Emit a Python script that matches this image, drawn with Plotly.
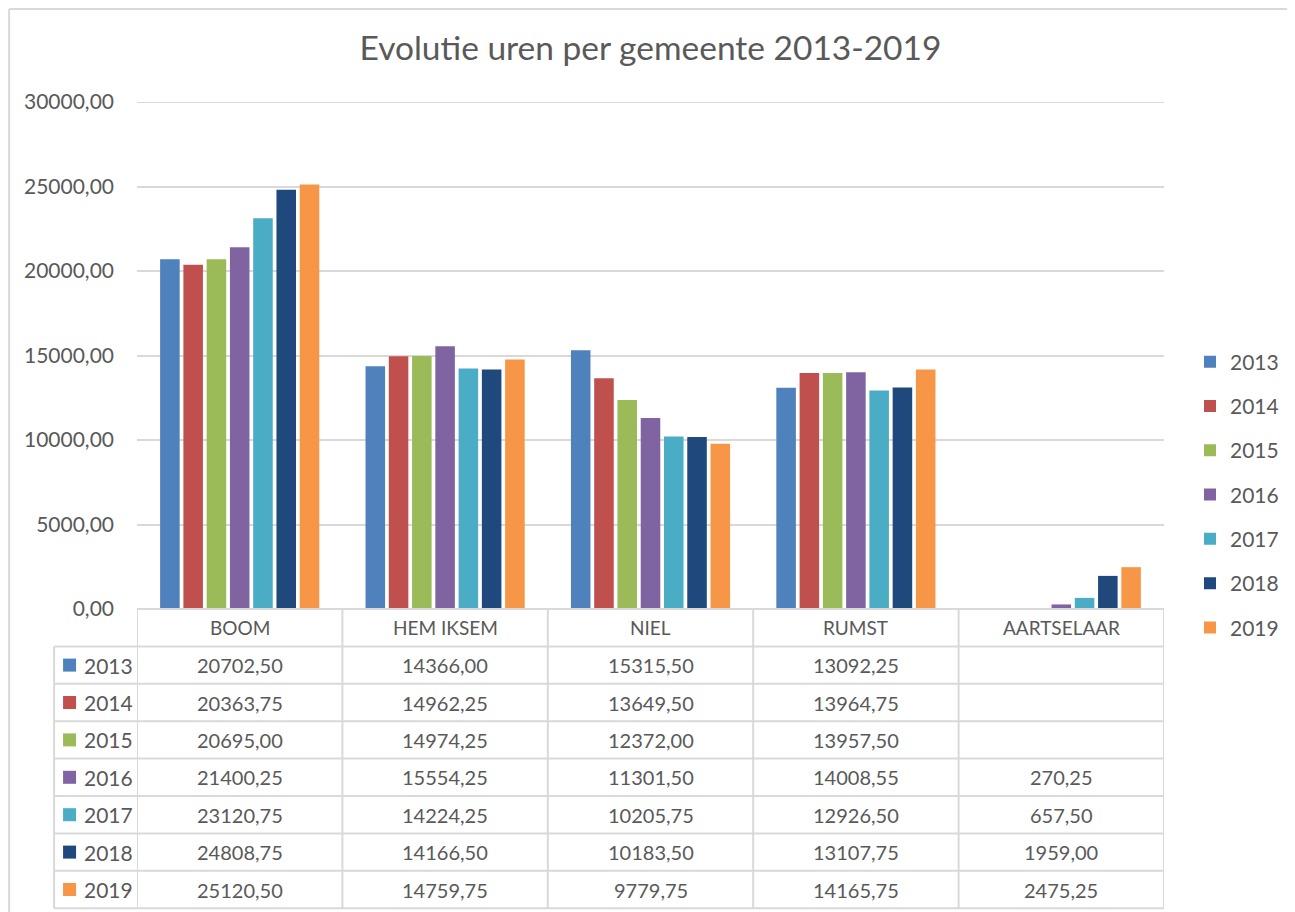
import plotly.graph_objects as go

categories = ["BOOM", "HEM IKSEM", "NIEL", "RUMST", "AARTSELAAR"]
years = ["2013", "2014", "2015", "2016", "2017", "2018", "2019"]
v2013 = [20702.50, 14366.00, 15315.50, 13092.25, None]
v2014 = [20363.75, 14962.25, 13649.50, 13964.75, None]
v2015 = [20695.00, 14974.25, 12372.00, 13957.50, None]
v2016 = [21400.25, 15554.25, 11301.50, 14008.55, 270.25]
v2017 = [23120.75, 14224.25, 10205.75, 12926.50, 657.50]
v2018 = [24808.75, 14166.50, 10183.50, 13107.75, 1959.00]
v2019 = [25120.50, 14759.75, 9779.75, 14165.75, 2475.25]
series = [v2013, v2014, v2015, v2016, v2017, v2018, v2019]
colors = ["#4F81BD", "#C0504D", "#9BBB59", "#8064A2", "#4BACC6", "#1F497D", "#F79646"]

OFF = 8  # page body margin
W, H = 1295 - OFF, 912 - OFF
# screen-space layout targets
SL, SR, ST, SB = 137, 1165, 102, 609
L, R, T, B = SL - OFF, SR - OFF, ST - OFF, SB - OFF
PW, PH = R - L, B - T
ROW = 37.4
FONT = "Lato"
TXT = "#595959"
GRID = "#D9D9D9"


def px(xs):
    return (xs - OFF - L) / PW


def py(ys):
    return (B - (ys - OFF)) / PH


def fmt(v):
    return "" if v is None else f"{v:.2f}".replace(".", ",")


fig = go.Figure()
for i, (yr, vals) in enumerate(zip(years, series)):
    fig.add_trace(go.Bar(
        x=list(range(len(categories))), y=vals, name=yr,
        marker=dict(color=colors[i], line=dict(width=0)),
        legendgroup=yr,
    ))

shapes = []
annotations = []
# top gridline
shapes.append(dict(type="line", xref="paper", yref="y", x0=0, x1=1, y0=30000, y1=30000,
                   line=dict(color=GRID, width=2), layer="below"))
# table horizontal lines
for k in range(9):
    y = py(SB + ROW * k)
    x0 = 0 if k == 0 else px(54)
    shapes.append(dict(type="line", xref="paper", yref="paper", x0=x0, x1=1, y0=y, y1=y,
                       line=dict(color=GRID, width=2)))
# vertical lines
for c in range(len(categories) + 1):
    shapes.append(dict(type="line", xref="x", yref="paper", x0=c - 0.5, x1=c - 0.5,
                       y0=py(SB), y1=py(SB + ROW * 8), line=dict(color=GRID, width=2)))
shapes.append(dict(type="line", xref="paper", yref="paper", x0=px(54), x1=px(54),
                   y0=py(SB + ROW), y1=py(SB + ROW * 8), line=dict(color=GRID, width=2)))
# outer border (left and top)
shapes.append(dict(type="line", xref="paper", yref="paper", x0=px(OFF + 1), x1=px(OFF + 1),
                   y0=py(OFF + 1), y1=py(930), line=dict(color=GRID, width=2)))
shapes.append(dict(type="line", xref="paper", yref="paper", x0=px(OFF + 1), x1=px(1320),
                   y0=py(OFF + 1), y1=py(OFF + 1), line=dict(color=GRID, width=2)))

# header labels
for c, name in enumerate(categories):
    annotations.append(dict(xref="x", yref="paper", x=c, y=py(SB + ROW * 0.5), text=name,
                            showarrow=False, font=dict(family=FONT, size=19, color=TXT),
                            xanchor="center", yanchor="middle"))
# rows
for r, (yr, vals) in enumerate(zip(years, series)):
    yc = SB + ROW * (r + 1.5)
    shapes.append(dict(type="rect", xref="paper", yref="paper", x0=px(63), x1=px(76),
                       y0=py(yc + 6.5), y1=py(yc - 6.5), fillcolor=colors[r], line=dict(width=0)))
    annotations.append(dict(xref="paper", yref="paper", x=px(82), y=py(yc), text=yr,
                            showarrow=False, font=dict(family=FONT, size=21, color=TXT),
                            xanchor="left", yanchor="middle"))
    for c, v in enumerate(vals):
        if v is None:
            continue
        annotations.append(dict(xref="x", yref="paper", x=c, y=py(yc), text=fmt(v),
                                showarrow=False, font=dict(family=FONT, size=20, color=TXT),
                                xanchor="center", yanchor="middle"))

fig.update_layout(
    width=W, height=H, autosize=False,
    margin=dict(l=L, r=W - R, t=T, b=H - B, pad=0),
    paper_bgcolor="white", plot_bgcolor="white",
    separators=",.",
    title=dict(text="Evolutie uren per gemeente 2013-2019", x=0.5, xref="paper",
               xanchor="center", y=1 - (48 - OFF) / H, yanchor="middle",
               font=dict(family=FONT, size=33.5, color=TXT)),
    barmode="group", bargap=0.207, bargroupgap=0.16,
    xaxis=dict(range=[-0.5, 4.5], showticklabels=False, showgrid=False, zeroline=False,
               showline=False, ticks="", fixedrange=True),
    yaxis=dict(range=[0, 30000], dtick=5000, tickformat=".2f", showgrid=True,
               gridcolor=GRID, gridwidth=2, zeroline=False, showline=False,
               tickfont=dict(family=FONT, size=21, color=TXT), ticklabelstandoff=22),
    legend=dict(x=px(1190), xanchor="left", y=py(495), yanchor="middle",
                font=dict(family=FONT, size=21, color=TXT), tracegroupgap=14,
                bgcolor="rgba(0,0,0,0)"),
    shapes=shapes, annotations=annotations,
    font=dict(family=FONT, color=TXT),
)
fig.write_html("out.html")
